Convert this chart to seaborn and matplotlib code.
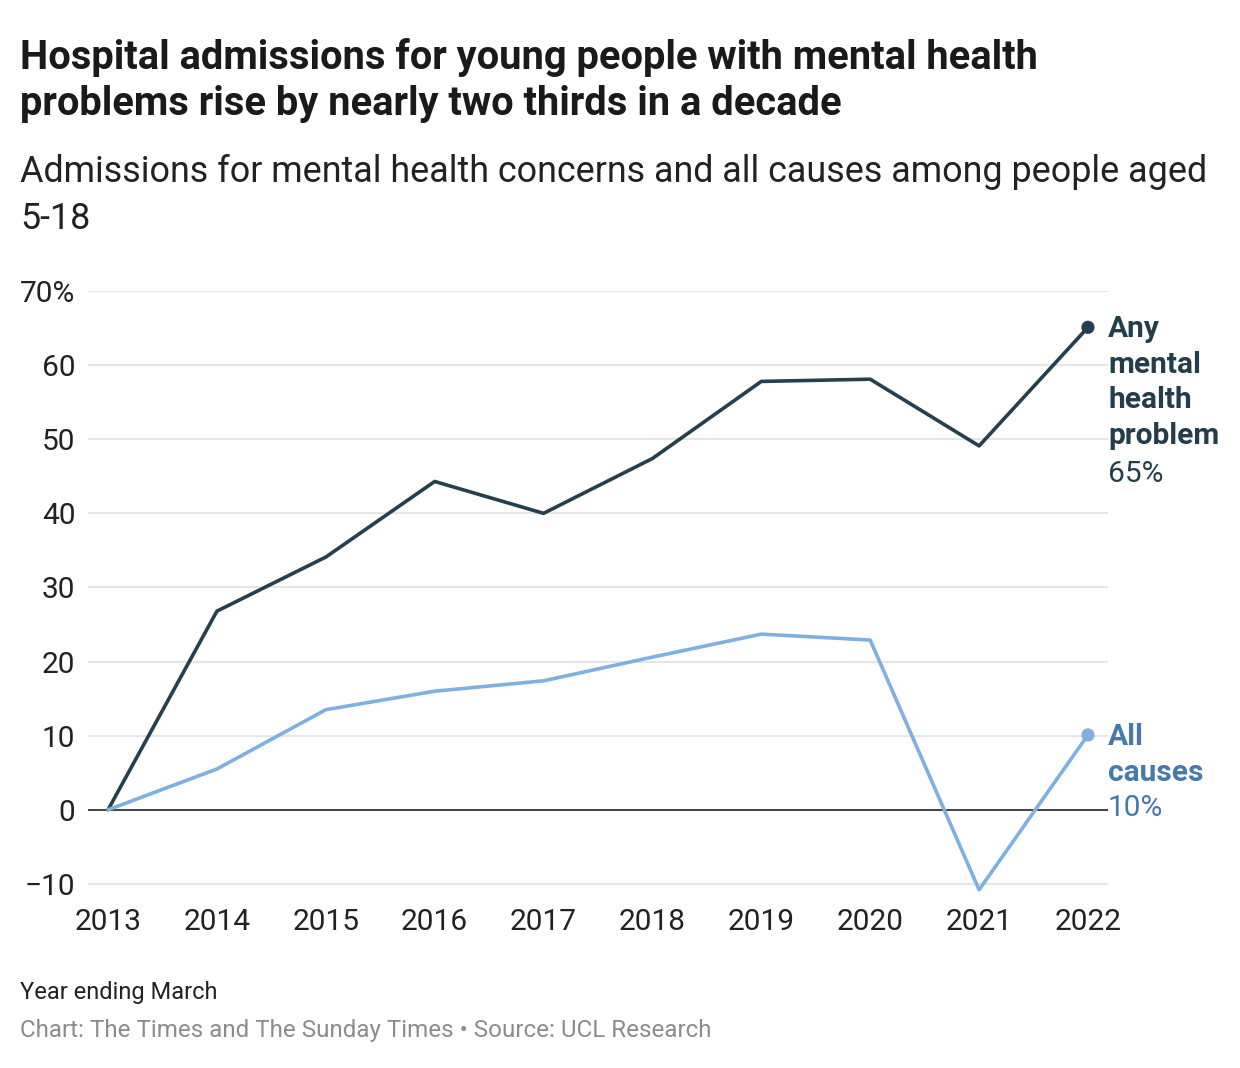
import matplotlib
matplotlib.use("Agg")
import matplotlib.pyplot as plt
import seaborn as sns
import pandas as pd

years = [2013, 2014, 2015, 2016, 2017, 2018, 2019, 2020, 2021, 2022]
mental = [0, 26.8, 34.1, 44.3, 40.0, 47.4, 57.8, 58.1, 49.1, 65.1]
allcauses = [0, 5.5, 13.5, 16.0, 17.4, 20.6, 23.7, 22.9, -10.8, 10.1]
series_names = ["Any mental health problem", "All causes"]
yticks = [-10, 0, 10, 20, 30, 40, 50, 60, 70]
ytick_labels = ["\u221210", "0", "10", "20", "30", "40", "50", "60", "70%"]

DARK = "#263f4e"
LIGHT = "#7eb0e2"
DARK_TXT = "#223d4c"
LIGHT_TXT = "#4679ad"

sns.set_theme(style="white")
plt.rcParams["font.family"] = ["Roboto", "DejaVu Sans"]

df = pd.DataFrame({
    "year": years * 2,
    "value": mental + allcauses,
    "series": [series_names[0]] * len(years) + [series_names[1]] * len(years),
})

fig = plt.figure(figsize=(12.4, 10.68), dpi=100)
ax = fig.add_axes([88 / 1240, 1 - 895 / 1068, (1108 - 88) / 1240, (895 - 291) / 1068])

for y in yticks:
    if y != 0:
        ax.axhline(y, color="#e6e6e6", lw=1.5, zorder=0)
ax.axhline(0, color="#222222", lw=1.2, zorder=1)

pal = {series_names[0]: DARK, series_names[1]: LIGHT}
sns.lineplot(data=df, x="year", y="value", hue="series", palette=pal,
             lw=2.6, ax=ax, legend=False, zorder=3)

last = df[df["year"] == years[-1]]
sns.scatterplot(data=last, x="year", y="value", hue="series", palette=pal,
                s=90, edgecolor="none", ax=ax, legend=False, zorder=4)

ax.set_xlim(2012.816, 2022.184)
ax.set_ylim(-11.5, 70)
ax.set_yticks(yticks)
ax.set_yticklabels(ytick_labels)
ax.set_xticks(years)
ax.set_xticklabels([str(y) for y in years])
ax.tick_params(axis="y", length=0, pad=9, labelsize=21.5, labelcolor="#222222")
ax.tick_params(axis="x", length=0, pad=9, labelsize=21.5, labelcolor="#222222")
ax.set_xlabel("")
ax.set_ylabel("")
for s in ax.spines.values():
    s.set_visible(False)

# End labels
fig.text(1108 / 1240, 1 - 315 / 1068, "Any\nmental\nhealth\nproblem", ha="left", va="top",
         fontsize=21.5, fontweight="bold", color=DARK_TXT, linespacing=1.35)
fig.text(1108 / 1240, 1 - 460 / 1068, "65%", ha="left", va="top", fontsize=21.5, color=DARK_TXT)
fig.text(1108 / 1240, 1 - 723 / 1068, "All\ncauses", ha="left", va="top",
         fontsize=21.5, fontweight="bold", color=LIGHT_TXT, linespacing=1.35)
fig.text(1108 / 1240, 1 - 794 / 1068, "10%", ha="left", va="top", fontsize=21.5, color=LIGHT_TXT)

# Titles
fig.text(20 / 1240, 1 - 38 / 1068,
         "Hospital admissions for young people with mental health\nproblems rise by nearly two thirds in a decade",
         ha="left", va="top", fontsize=28.7, fontweight="bold", color="#1a1a1a", linespacing=1.28)
fig.text(20 / 1240, 1 - 154 / 1068,
         "Admissions for mental health concerns and all causes among people aged\n5-18",
         ha="left", va="top", fontsize=25.8, color="#222222", linespacing=1.4)

fig.text(20 / 1240, 1 - 993 / 1068, "Year ending March", ha="left", va="center",
         fontsize=17, color="#222222")
fig.text(20 / 1240, 1 - 1031 / 1068,
         "Chart: The Times and The Sunday Times \u2022 Source: UCL Research",
         ha="left", va="center", fontsize=17.4, color="#8c8c8c")

fig.savefig("out.png", dpi=100, facecolor="white")
